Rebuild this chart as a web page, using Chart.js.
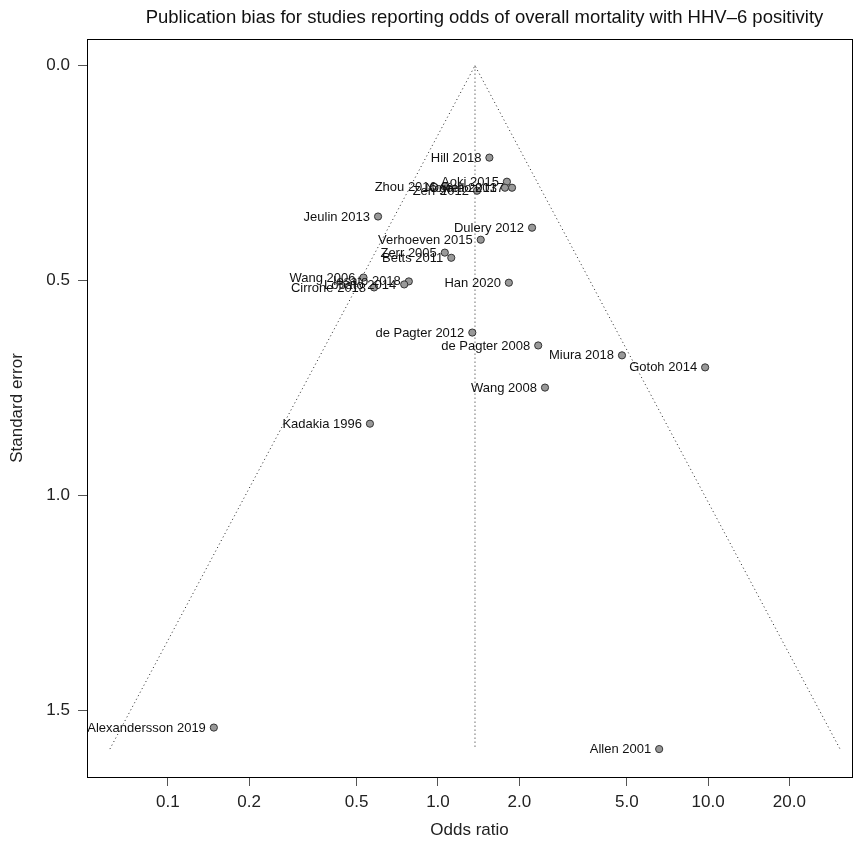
<!DOCTYPE html>
<html>
<head>
<meta charset="utf-8">
<script src="https://cdn.jsdelivr.net/npm/chart.js@4/dist/chart.umd.min.js"></script>
<style>
  html, body { margin: 0; padding: 0; background: #ffffff; }
  #wrap { width: 868px; height: 845px; }
</style>
</head>
<body>
<div id="wrap"><canvas id="funnel" width="868" height="845"></canvas></div>
<script>
// Studies in the meta-analysis
const studies = [
  "Hill 2018", "Aoki 2015", "Zhou 2016", "Noviello 2017", "Ogata 2013", "Zerr 2012",
  "Jeulin 2013", "Dulery 2012", "Verhoeven 2015", "Zerr 2005", "Betts 2011",
  "Wang 2006", "Iesato 2018", "Lobato 2014", "Cirrone 2018", "Han 2020",
  "de Pagter 2012", "de Pagter 2008", "Miura 2018", "Gotoh 2014", "Wang 2008",
  "Kadakia 1996", "Alexandersson 2019", "Allen 2001"
];
// Odds ratio of overall mortality with HHV-6 positivity
const oddsRatios = [
  1.55, 1.80, 1.06, 1.88, 1.77, 1.395,
  0.60, 2.23, 1.44, 1.06, 1.12,
  0.53, 0.78, 0.75, 0.58, 1.83,
  1.34, 2.35, 4.80, 9.75, 2.49,
  0.56, 0.148, 6.59
];
// Standard error of log odds ratio
const standardErrors = [
  0.214, 0.270, 0.281, 0.284, 0.284, 0.291,
  0.351, 0.377, 0.405, 0.435, 0.447,
  0.493, 0.502, 0.509, 0.516, 0.505,
  0.621, 0.651, 0.674, 0.702, 0.749,
  0.833, 1.540, 1.590
];
// Pooled estimate and funnel limits (OR at the largest standard error)
const pooledOR = 1.371;
const funnelSE = [0, 1.59];
const funnelLimits = [0.061, 30.8];

const xTicks = [0.1, 0.2, 0.5, 1, 2, 5, 10, 20];
const xTickLabels = ["0.1", "0.2", "0.5", "1.0", "2.0", "5.0", "10.0", "20.0"];
const yTicks = [0, 0.5, 1.0, 1.5];
const yTickLabels = ["0.0", "0.5", "1.0", "1.5"];

const FONT = "'Liberation Sans', Arial, Helvetica, sans-serif";
const TITLE = "Publication bias for studies reporting odds of overall mortality with HHV\u20136 positivity";

const studyPoints = oddsRatios.map((or, i) => ({ x: or, y: standardErrors[i] }));
const funnelPoints = [
  { x: funnelLimits[0], y: funnelSE[1] },
  { x: pooledOR, y: funnelSE[0] },
  { x: funnelLimits[1], y: funnelSE[1] }
];
const refLine = [
  { x: pooledOR, y: funnelSE[0] },
  { x: pooledOR, y: funnelSE[1] }
];

// Box, title and study labels
const decorations = {
  id: 'decorations',
  afterDatasetsDraw(chart) {
    const { ctx, chartArea: a } = chart;
    ctx.save();
    // study labels to the left of each point
    const meta = chart.getDatasetMeta(2);
    ctx.fillStyle = '#111';
    ctx.font = '13px ' + FONT;
    ctx.textAlign = 'right';
    ctx.textBaseline = 'middle';
    meta.data.forEach((pt, i) => {
      ctx.fillText(studies[i], pt.x - 8, pt.y + 0.5);
    });
    // plot box
    ctx.strokeStyle = '#000';
    ctx.lineWidth = 1;
    ctx.strokeRect(Math.round(a.left) + 0.5, Math.round(a.top) + 0.5,
      Math.round(a.right - a.left), Math.round(a.bottom - a.top));
    // title
    ctx.font = '18.5px ' + FONT;
    ctx.textAlign = 'center';
    ctx.textBaseline = 'middle';
    ctx.fillStyle = '#111';
    ctx.fillText(TITLE, (a.left + a.right) / 2 + 15, 18);
    ctx.restore();
  }
};

new Chart(document.getElementById('funnel'), {
  type: 'scatter',
  data: {
    datasets: [
      {
        label: 'Funnel',
        data: funnelPoints,
        showLine: true,
        borderColor: '#222',
        borderWidth: 1,
        borderDash: [1, 3],
        pointRadius: 0,
        fill: false,
        order: 3
      },
      {
        label: 'Pooled estimate',
        data: refLine,
        showLine: true,
        borderColor: '#222',
        borderWidth: 1,
        borderDash: [1, 3],
        pointRadius: 0,
        fill: false,
        order: 2
      },
      {
        label: 'Studies',
        data: studyPoints,
        pointRadius: 3.6,
        pointBackgroundColor: '#999999',
        pointBorderColor: '#333333',
        pointBorderWidth: 1,
        order: 1
      }
    ]
  },
  options: {
    responsive: false,
    animation: false,
    layout: { padding: { top: 39, right: 16, left: 0, bottom: 0 } },
    plugins: {
      legend: { display: false },
      title: { display: false },
      tooltip: { enabled: false }
    },
    scales: {
      x: {
        type: 'logarithmic',
        min: 0.0502,
        max: 34.1,
        afterBuildTicks: s => { s.ticks = xTicks.map(v => ({ value: v })); },
        afterFit: s => { s.height = 68; },
        grid: { drawOnChartArea: false, drawTicks: true, tickLength: 9, tickColor: '#555' },
        border: { display: false },
        ticks: {
          autoSkip: false,
          maxRotation: 0,
          padding: 6,
          color: '#222',
          font: { family: FONT, size: 17 },
          callback: (v, i) => xTickLabels[i]
        },
        title: {
          display: true,
          text: 'Odds ratio',
          color: '#222',
          font: { family: FONT, size: 17 },
          padding: { top: 4, bottom: 4 }
        }
      },
      y: {
        type: 'linear',
        reverse: true,
        min: -0.062,
        max: 1.655,
        afterBuildTicks: s => { s.ticks = yTicks.map(v => ({ value: v })); },
        afterFit: s => { s.width = 87; },
        grid: { drawOnChartArea: false, drawTicks: true, tickLength: 9, tickColor: '#555' },
        border: { display: false },
        ticks: {
          padding: 8,
          color: '#222',
          font: { family: FONT, size: 17 },
          callback: (v, i) => yTickLabels[i]
        },
        title: {
          display: true,
          text: 'Standard error',
          color: '#222',
          font: { family: FONT, size: 17 },
          padding: { top: 7, bottom: 7 }
        }
      }
    }
  },
  plugins: [decorations]
});
</script>
</body>
</html>
